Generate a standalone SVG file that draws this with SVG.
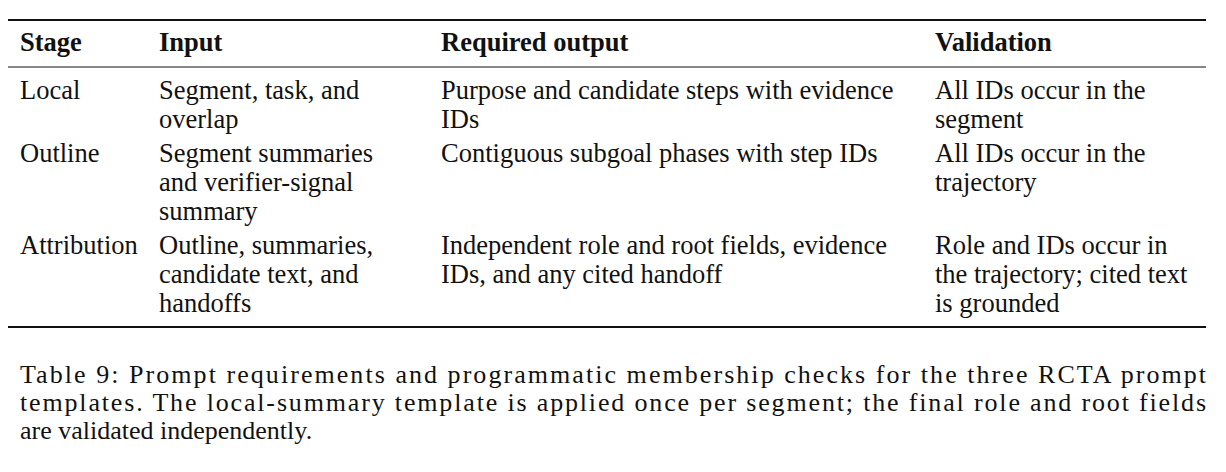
<svg xmlns="http://www.w3.org/2000/svg" width="1226" height="472" viewBox="0 0 1226 472">
<style>
text{font-family:"Liberation Serif","DejaVu Serif",serif;font-size:26.5px;fill:#111}
.h{font-weight:bold}
.c{font-size:26px}
line{stroke:#111}
</style>
<rect width="1226" height="472" fill="#fff"/>
<line x1="8" y1="20" x2="1206" y2="20" stroke-width="2"/>
<line x1="8" y1="67" x2="1206" y2="67" stroke-width="1.2"/>
<line x1="8" y1="327" x2="1206" y2="327" stroke-width="2"/>
<text class="h" x="20" y="51">Stage</text>
<text class="h" x="159" y="51">Input</text>
<text class="h" x="441" y="51">Required output</text>
<text class="h" x="935" y="51">Validation</text>
<text x="20" y="99">Local</text>
<text x="159" y="99">Segment, task, and</text>
<text x="159" y="128">overlap</text>
<text x="441" y="99">Purpose and candidate steps with evidence</text>
<text x="441" y="128">IDs</text>
<text x="935" y="99">All IDs occur in the</text>
<text x="935" y="128">segment</text>
<text x="20" y="162">Outline</text>
<text x="159" y="162">Segment summaries</text>
<text x="159" y="191">and verifier-signal</text>
<text x="159" y="220">summary</text>
<text x="441" y="162">Contiguous subgoal phases with step IDs</text>
<text x="935" y="162">All IDs occur in the</text>
<text x="935" y="191">trajectory</text>
<text x="20" y="254">Attribution</text>
<text x="159" y="254">Outline, summaries,</text>
<text x="159" y="283">candidate text, and</text>
<text x="159" y="312">handoffs</text>
<text x="441" y="254">Independent role and root fields, evidence</text>
<text x="441" y="283">IDs, and any cited handoff</text>
<text x="935" y="254">Role and IDs occur in</text>
<text x="935" y="283">the trajectory; cited text</text>
<text x="935" y="312">is grounded</text>
<text class="c" x="20" y="383" textLength="1186" lengthAdjust="spacing">Table 9: Prompt requirements and programmatic membership checks for the three RCTA prompt</text>
<text class="c" x="20" y="411" textLength="1186" lengthAdjust="spacing">templates. The local-summary template is applied once per segment; the final role and root fields</text>
<text class="c" x="20" y="439">are validated independently.</text>
</svg>
